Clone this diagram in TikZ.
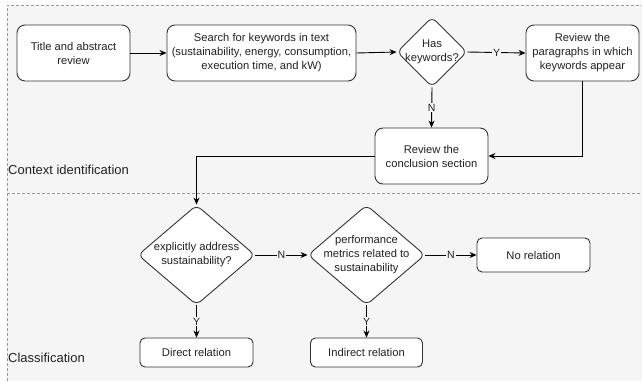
\documentclass[tikz,border=0pt]{standalone}
\usepackage{fontspec}
\setmainfont{Liberation Sans}
\usetikzlibrary{shapes.geometric,arrows.meta}
\definecolor{bgcol}{HTML}{F5F5F5}
\definecolor{bordercol}{HTML}{999999}
\definecolor{linecol}{HTML}{333333}
\definecolor{txtcol}{HTML}{222222}
\tikzset{
  boxnode/.style={draw=linecol, fill=white, line width=0.9pt, rounded corners=8pt,
    align=center, inner sep=0pt, text=txtcol, font=\fontsize{11.2}{14}\selectfont},
  smallbox/.style={boxnode, rounded corners=5pt},
  decnode/.style={draw=linecol, fill=white, line width=0.9pt, diamond, rounded corners=6pt,
    inner sep=0pt},
  dectext/.style={align=center, text=txtcol, inner sep=0pt, font=\fontsize{11.2}{14}\selectfont},
  conn/.style={draw=black, line width=0.9pt, -{Stealth[length=7pt,width=6pt]}},
  elabel/.style={fill=bgcol, inner sep=1pt, text=txtcol, font=\fontsize{10.5}{12}\selectfont},
  lanelabel/.style={anchor=west, inner sep=0pt, text=txtcol, font=\fontsize{13}{15}\selectfont},
  lanebord/.style={draw=bordercol, line width=0.7pt, dash pattern=on 3pt off 2pt}
}
\begin{document}
\begin{tikzpicture}[x=1pt,y=-1pt]
\useasboundingbox (0,0) rectangle (642,381);
\fill[bgcol] (7,5) rectangle (642,381);
\draw[lanebord] (7,381) -- (7,5) -- (642,5);
\draw[lanebord] (7,193) -- (642,193);
\node[lanelabel] (lane1) at (8,170) {Context identification};
\node[lanelabel] (lane2) at (8,358) {Classification};

\node[boxnode, minimum width=113pt, minimum height=56pt] (title) at (73.5,53) {Title and abstract\\review};
\node[boxnode, minimum width=189pt, minimum height=56pt] (search) at (261.5,53) {Search for keywords in text\\(sustainability, energy, consumption,\\execution time, and kW)};
\node[decnode, minimum width=70pt, minimum height=70pt] (has) at (432,52) {};
\node[dectext] (hast) at (432,52) {Has\\keywords?};
\node[boxnode, minimum width=113pt, minimum height=56pt] (para) at (582.5,53) {Review the\\paragraphs in which\\keywords appear};
\node[boxnode, minimum width=113pt, minimum height=56pt] (concl) at (431.5,156) {Review the\\conclusion section};

\node[decnode, minimum width=117pt, minimum height=100pt] (expl) at (196.5,255) {};
\node[dectext] (explt) at (196.5,255) {explicitly address\\sustainability?};
\node[decnode, minimum width=117pt, minimum height=100pt] (perf) at (366.5,255) {};
\node[dectext] (perft) at (366.5,255) {performance\\metrics related to\\sustainability};
\node[smallbox, minimum width=113pt, minimum height=34pt] (norel) at (533.5,255) {No relation};
\node[smallbox, minimum width=113pt, minimum height=29pt] (direct) at (196.5,352.5) {Direct relation};
\node[smallbox, minimum width=112pt, minimum height=29pt] (indirect) at (366.5,352.5) {Indirect relation};

\draw[conn] (title.east) -- (search.west);
\draw[conn] (search.east) -- (has.west);
\draw[conn] (has.east) -- node[elabel] {Y} (para.west);
\draw[conn] (has.south) -- node[elabel, pos=0.5] {N} (concl.north);
\draw[conn] (para.south) |- (concl.east);
\draw[conn] (concl.west) -| (expl.north);
\draw[conn] (expl.east) -- node[elabel, pos=0.5] {N} (perf.west);
\draw[conn] (perf.east) -- node[elabel, pos=0.5] {N} (norel.west);
\draw[conn] (expl.south) -- node[elabel, pos=0.5] {Y} (direct.north);
\draw[conn] (perf.south) -- node[elabel, pos=0.5] {Y} (indirect.north);
\end{tikzpicture}
\end{document}
